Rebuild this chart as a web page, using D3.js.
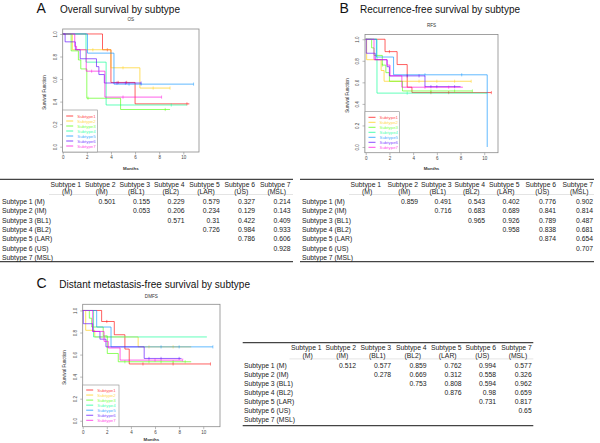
<!DOCTYPE html>
<html>
<head>
<meta charset="utf-8">
<script src="https://cdn.jsdelivr.net/npm/d3@7"></script>
<style>
  body { margin: 0; background: #fff; }
  svg { display: block; font-family: "Liberation Sans", Arial, sans-serif; }
</style>
</head>
<body>
<div id="fig"></div>
<script>
var subtypes = ['Subtype1', 'Subtype2', 'Subtype3', 'Subtype4', 'Subtype5', 'Subtype6', 'Subtype7']
var colors = ['#ff0000', '#ffcc00', '#4cff00', '#00ff90', '#0090ff', '#5500ff', '#ff00dd']
var monthTicks = [0, 2, 4, 6, 8, 10]
var survTicks = [0, 0.2, 0.4, 0.6, 0.8, 1.0]

// OS curves: event times, survival after each event, last follow-up, censor times
var osTimes = [[3.3, 4.0, 6.0], [0.8, 4.0, 6.4], [0.7, 1.3, 1.5, 2.0, 4.8], [1.93, 3.6], [2.05, 4.25], [0.2, 1.05, 1.45, 2.8, 3.0, 3.45], [1.0, 1.15, 1.95, 3.5]]
var osSurv = [[0.86, 0.57, 0.38], [0.86, 0.70, 0.52], [0.85, 0.77, 0.69, 0.43, 0.33], [0.75, 0.37], [0.83, 0.555], [0.93, 0.86, 0.78, 0.71, 0.64, 0.565], [0.89, 0.86, 0.67, 0.44]]
var osEnd = [10.5, 8.9, 8.9, 10.3, 10.85, 6.5, 8.2]
var osCens = [[3.7, 4.6, 5.3, 10.3], [2.5, 5.0, 7.5, 8.9], [2.1, 8.5], [9.0], [5.5, 6.5, 10.85], [4.5, 5.2, 6.5], [2.4, 5.0, 8.2]]

// RFS curves
var rfsTimes = [[1.63, 2.65, 3.5, 3.9], [0.08, 1.3, 1.55], [0.5, 0.7, 1.4, 1.7, 2.0, 3.1], [0.95], [0.9, 2.35, 10.25], [0.05, 0.8, 1.8, 2.0, 5.0], [0.7, 1.8, 2.05, 3.05]]
var rfsSurv = [[0.885, 0.765, 0.555, 0.505], [0.81, 0.71, 0.61], [0.92, 0.85, 0.76, 0.69, 0.61, 0.52], [0.5], [0.835, 0.67, 0], [0.87, 0.81, 0.745, 0.66, 0.56], [0.81, 0.76, 0.66, 0.555]]
var rfsEnd = [10.6, 8.9, 9.0, 10.25, 10.25, 8.0, 8.2]
var rfsCens = [[2.0, 5.5, 7.0, 10.6], [4.5, 6.0, 7.5, 8.9], [1.4, 5.5, 7.5, 9.0], [3.5], [5.0, 8.1], [3.5, 4.5, 5.5, 6.0, 7.5], [5.0, 7.0]]

// DMFS curves
var dmfsTimes = [[1.57, 2.62, 3.5, 3.86], [0.25, 1.0, 4.6], [0.55, 0.75, 1.7, 2.04, 2.95], [0.9], [1.16, 2.35], [0.05, 0.83, 1.43, 1.93, 5.1], [0.83, 1.77, 2.12, 3.1]]
var dmfsSurv = [[0.90, 0.78, 0.65, 0.515], [0.82, 0.76, 0.67], [0.93, 0.85, 0.77, 0.61, 0.535], [0.76], [0.85, 0.67], [0.88, 0.81, 0.74, 0.67, 0.565], [0.81, 0.72, 0.66, 0.55]]
var dmfsEnd = [10.6, 9.0, 9.0, 10.3, 10.8, 8.2, 8.3]
var dmfsCens = [[2.0, 5.0, 7.5, 10.6], [5.5, 7.5], [3.5, 5.5, 6.5, 7.5, 8.5], [], [6.5, 8.0, 10.8], [5.5, 6.5, 8.0], [6.0, 8.3]]

// pairwise p-value tables (upper triangle, row i against later subtypes)
var rowLabels = ['Subtype 1 (M)', 'Subtype 2 (IM)', 'Subtype 3 (BL1)', 'Subtype 4 (BL2)', 'Subtype 5 (LAR)', 'Subtype 6 (US)', 'Subtype 7 (MSL)']
var colHead = ['Subtype 1', 'Subtype 2', 'Subtype 3', 'Subtype 4', 'Subtype 5', 'Subtype 6', 'Subtype 7']
var colSub = ['(M)', '(IM)', '(BL1)', '(BL2)', '(LAR)', '(US)', '(MSL)']
var osP = [['0.501', '0.155', '0.229', '0.579', '0.327', '0.214'], ['0.053', '0.206', '0.234', '0.129', '0.143'], ['0.571', '0.31', '0.422', '0.409'], ['0.726', '0.984', '0.933'], ['0.786', '0.606'], ['0.928'], []]
var rfsP = [['0.859', '0.491', '0.543', '0.402', '0.776', '0.902'], ['0.716', '0.683', '0.689', '0.841', '0.814'], ['0.965', '0.926', '0.789', '0.487'], ['0.958', '0.838', '0.681'], ['0.874', '0.654'], ['0.707'], []]
var dmfsP = [['0.512', '0.577', '0.859', '0.762', '0.994', '0.577'], ['0.278', '0.669', '0.312', '0.558', '0.326'], ['0.753', '0.808', '0.594', '0.962'], ['0.876', '0.98', '0.659'], ['0.731', '0.817'], ['0.65'], []]

var svg = d3.select('#fig').append('svg')
  .attr('width', 600)
  .attr('height', 443)

function levelAt (times, surv, t) {
  var s = 1
  for (var i = 0; i < times.length; i++) {
    if (times[i] <= t) s = surv[i]
  }
  return s
}

function drawPanel (p) {
  var x = d3.scaleLinear().domain(p.xDomain).range([p.left, p.right])
  var y = d3.scaleLinear().domain(p.yDomain).range([p.bottom, p.top])
  var g = svg.append('g')

  g.append('text')
    .attr('x', p.letterX).attr('y', p.titleY + 0.4)
    .attr('font-size', 14).attr('fill', '#111')
    .text(p.letter)
  g.append('text')
    .attr('x', p.titleX).attr('y', p.titleY)
    .attr('font-size', 10.8).attr('fill', '#111')
    .attr('textLength', p.titleW).attr('lengthAdjust', 'spacingAndGlyphs')
    .text(p.title)
  g.append('text')
    .attr('x', (p.left + p.right) / 2).attr('y', p.subY)
    .attr('font-size', 4.6).attr('text-anchor', 'middle').attr('fill', '#333')
    .text(p.sub)

  // 横坐标
  var xAxis = d3.axisBottom(x).tickValues(monthTicks).tickSize(2.5).tickPadding(1.8)
    .tickFormat(d3.format('d'))
  var gx = g.append('g')
    .attr('transform', 'translate(0,' + p.bottom + ')')
    .call(xAxis)
  // 纵坐标
  var yAxis = d3.axisLeft(y).tickValues(survTicks).tickSize(2.5)
    .tickFormat(d3.format('.1f'))
  var gy = g.append('g')
    .attr('transform', 'translate(' + p.left + ',0)')
    .call(yAxis)
  gy.selectAll('.tick text')
    .attr('x', null).attr('dy', null)
    .attr('text-anchor', 'middle')
    .attr('transform', 'translate(-5.8,0) rotate(-90)')
  ;[gx, gy].forEach(function (a) {
    a.select('.domain').remove()
    a.selectAll('.tick line').attr('stroke', '#777').attr('stroke-width', 0.5)
    a.selectAll('.tick text').attr('font-size', 4.5).attr('fill', '#444').attr('font-family', null)
  })

  g.append('text')
    .attr('x', (p.left + p.right) / 2).attr('y', p.bottom + p.monthsOff)
    .attr('font-size', 4.4).attr('text-anchor', 'middle').attr('fill', '#333')
    .attr('font-weight', 'bold')
    .text('Months')
  g.append('text')
    .attr('transform', 'translate(' + (p.left - 16.5) + ',' + ((p.top + p.bottom) / 2 + 2) + ') rotate(-90)')
    .attr('font-size', 4.5).attr('text-anchor', 'middle').attr('fill', '#333')
    .text('Survival Function')

  // curves
  var line = d3.line()
    .x(function (d) { return x(d[0]) })
    .y(function (d) { return y(d[1]) })
    .curve(d3.curveStepAfter)
  subtypes.forEach(function (name, i) {
    var pts = [[0, 1]]
    p.times[i].forEach(function (t, j) { pts.push([t, p.surv[i][j]]) })
    var last = pts[pts.length - 1]
    if (p.end[i] > last[0]) pts.push([p.end[i], last[1]])
    g.append('path')
      .attr('d', line(pts))
      .attr('fill', 'none')
      .attr('stroke', colors[i])
      .attr('stroke-opacity', 0.62)
      .attr('stroke-width', 1)
    g.selectAll(null)
      .data(p.cens[i])
      .enter()
      .append('line')
      .attr('x1', function (d) { return x(d) })
      .attr('x2', function (d) { return x(d) })
      .attr('y1', function (d) { return y(levelAt(p.times[i], p.surv[i], d)) - 1.6 })
      .attr('y2', function (d) { return y(levelAt(p.times[i], p.surv[i], d)) + 1.6 })
      .attr('stroke', colors[i])
      .attr('stroke-opacity', 0.62)
      .attr('stroke-width', 0.7)
  })

  // plot box
  g.append('rect')
    .attr('x', p.left).attr('y', p.top)
    .attr('width', p.right - p.left).attr('height', p.bottom - p.top)
    .attr('fill', 'none').attr('stroke', '#8a8a8a').attr('stroke-width', 0.8)

  // legend
  var lg = g.append('g').attr('transform', 'translate(' + p.left + ',' + p.legTop + ')')
  lg.append('rect')
    .attr('width', p.legW).attr('height', p.bottom - p.legTop)
    .attr('fill', '#fff').attr('stroke', '#8a8a8a').attr('stroke-width', 0.6)
  var item = lg.selectAll('.item')
    .data(subtypes)
    .enter()
    .append('g')
    .attr('transform', function (d, i) { return 'translate(0,' + (p.legFirst + i * p.legStep) + ')' })
  item.append('line')
    .attr('x1', 3.5).attr('x2', 10.5)
    .attr('stroke', function (d, i) { return colors[i] })
    .attr('stroke-opacity', 0.7).attr('stroke-width', 1)
  item.append('text')
    .attr('x', 14.5).attr('y', 1.6)
    .attr('font-size', 4.4)
    .attr('fill', function (d, i) { return colors[i] })
    .attr('fill-opacity', 0.75)
    .text(function (d) { return d })
}

function drawTable (t) {
  var g = svg.append('g').attr('fill', '#222').attr('font-size', 6.8)
  g.append('line')
    .attr('x1', t.x0).attr('x2', t.x1).attr('y1', t.topY).attr('y2', t.topY)
    .attr('stroke', '#444').attr('stroke-width', 1.3)
  g.append('line')
    .attr('x1', t.x0).attr('x2', t.x1).attr('y1', t.botY).attr('y2', t.botY)
    .attr('stroke', '#444').attr('stroke-width', 1.3)
  g.append('line')
    .attr('x1', t.cols[0] - 32).attr('x2', t.x1).attr('y1', t.h2Y + 3.2).attr('y2', t.h2Y + 3.2)
    .attr('stroke', '#bbb').attr('stroke-width', 0.4)

  t.cols.forEach(function (c, j) {
    g.append('text').attr('x', c - 15.2).attr('y', t.h1Y + 2.5)
      .attr('text-anchor', 'middle').text(colHead[j])
    g.append('text').attr('x', c - 13.8).attr('y', t.h2Y + 2.5)
      .attr('text-anchor', 'middle').text(colSub[j])
  })
  rowLabels.forEach(function (r, i) {
    var ry = t.row1Y + i * t.rowStep + 2.5
    g.append('text').attr('x', t.labelX).attr('y', ry).text(r)
    t.values[i].forEach(function (v, k) {
      g.append('text')
        .attr('x', t.cols[i + 1 + k]).attr('y', ry)
        .attr('text-anchor', 'end')
        .text(v)
    })
  })
}

drawPanel({
  letter: 'A', letterX: 36.5, title: 'Overall survival  by  subtype', titleX: 60, titleW: 120, titleY: 12.6,
  sub: 'OS', subY: 21, monthsOff: 18.3,
  left: 62.7, right: 199, top: 29, bottom: 152,
  xDomain: [0, 11.3], yDomain: [-0.047, 1.044],
  legTop: 110, legW: 34.6, legFirst: 6, legStep: 5,
  times: osTimes, surv: osSurv, end: osEnd, cens: osCens
})
drawPanel({
  letter: 'B', letterX: 339.5, title: 'Recurrence-free  survival  by  subtype', titleX: 360, titleW: 160, titleY: 12.6,
  sub: 'RFS', subY: 26.5, monthsOff: 17.6,
  left: 365, right: 498, top: 34.5, bottom: 152.7,
  xDomain: [-0.06, 11.16], yDomain: [-0.053, 1.044],
  legTop: 111.7, legW: 34.3, legFirst: 5.6, legStep: 5,
  times: rfsTimes, surv: rfsSurv, end: rfsEnd, cens: rfsCens
})
drawPanel({
  letter: 'C', letterX: 36.5, title: 'Distant metastasis-free survival  by  subtype', titleX: 59.3, titleW: 190.7, titleY: 287.5,
  sub: 'DMFS', subY: 297.5, monthsOff: 14.5,
  left: 82.7, right: 220, top: 304.3, bottom: 426.7,
  xDomain: [0, 11.39], yDomain: [-0.054, 1.056],
  legTop: 385, legW: 36.3, legFirst: 5, legStep: 5.05,
  times: dmfsTimes, surv: dmfsSurv, end: dmfsEnd, cens: dmfsCens
})

drawTable({
  x0: 0, x1: 293, labelX: 2, topY: 179.3, botY: 261.7,
  h1Y: 184.5, h2Y: 191.3, row1Y: 201.7, rowStep: 9.27,
  cols: [81, 115.5, 150, 184.5, 219.8, 255, 290.5], values: osP
})
drawTable({
  x0: 300, x1: 594, labelX: 302, topY: 179.3, botY: 261.7,
  h1Y: 184.5, h2Y: 191.3, row1Y: 201.7, rowStep: 9.27,
  cols: [381, 418, 451.5, 485, 519.5, 556, 593], values: rfsP
})
drawTable({
  x0: 242.7, x1: 533.3, labelX: 244, topY: 342.7, botY: 425.7,
  h1Y: 347.3, h2Y: 355.7, row1Y: 365, rowStep: 9.05,
  cols: [321.5, 356, 391, 426.5, 461.5, 496, 531.7], values: dmfsP
})
</script>
</body>
</html>
